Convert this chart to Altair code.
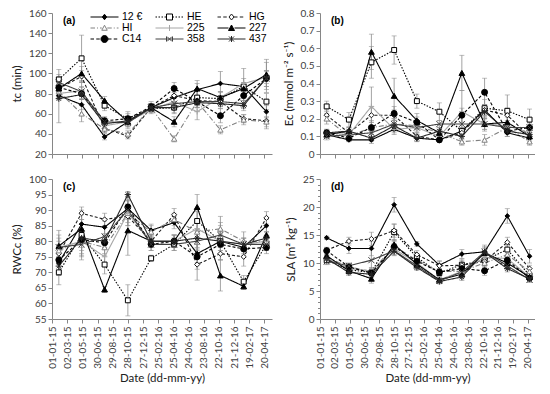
import altair as alt
import pandas as pd

# ---------------- data ----------------
series = ["12 €", "HE", "HG", "HI", "225", "227", "C14", "358", "437"]
sample_dates = ["2015-01-28", "2015-04-28", "2015-07-28", "2015-10-28", "2016-01-28",
                "2016-04-28", "2016-07-28", "2016-10-28", "2017-01-28", "2017-04-28"]
tick_labels = ["01-01-15", "02-03-15", "01-05-15", "30-06-15", "29-08-15", "28-10-15",
               "27-12-15", "25-02-16", "25-04-16", "24-06-16", "23-08-16", "22-10-16",
               "21-12-16", "19-02-17", "20-04-17"]

# (a) tc (min)
tc = {
    "12 €": [78, 69, 37, 52, 66, 76, 84, 90, 87, 62],
    "HE":   [94, 115, 68, 55, 65, 66, 76, 75, 87, 72],
    "HG":   [85, 97, 45, 38, 66, 78, 73, 72, 55, 53],
    "HI":   [82, 60, 45, 40, 66, 35, 72, 44, 54, 52],
    "225":  [80, 83, 48, 52, 64, 72, 62, 76, 90, 96],
    "227":  [85, 100, 73, 52, 66, 52, 85, 76, 85, 99],
    "C14":  [86, 80, 53, 55, 67, 85, 72, 58, 78, 95],
    "358":  [91, 82, 52, 51, 66, 70, 72, 72, 70, 95],
    "437":  [75, 79, 50, 53, 66, 66, 71, 70, 68, 96],
}
tc_err = {
    "12 €": [4, 5, 3, 3, 3, 5, 6, 12, 4, 6],
    "HE":   [10, 23, 5, 5, 4, 6, 8, 6, 18, 8],
    "HG":   [5, 6, 4, 3, 4, 6, 5, 5, 4, 8],
    "HI":   [6, 8, 4, 3, 4, 3, 6, 4, 5, 5],
    "225":  [5, 8, 5, 5, 4, 5, 8, 6, 5, 15],
    "227":  [6, 7, 4, 5, 4, 5, 8, 6, 6, 15],
    "C14":  [5, 6, 4, 7, 5, 6, 4, 7, 5, 8],
    "358":  [6, 5, 4, 6, 4, 5, 6, 5, 5, 8],
    "437":  [24, 5, 4, 4, 4, 5, 5, 5, 5, 6],
}

# (b) Ec (mmol m-2 s-1)
ec = {
    "12 €": [0.11, 0.08, 0.08, 0.14, 0.09, 0.08, 0.13, 0.25, 0.12, 0.09],
    "HE":   [0.27, 0.195, 0.52, 0.59, 0.30, 0.24, 0.13, 0.26, 0.245, 0.195],
    "HG":   [0.22, 0.12, 0.22, 0.22, 0.10, 0.08, 0.12, 0.25, 0.22, 0.10],
    "HI":   [0.20, 0.10, 0.15, 0.17, 0.16, 0.12, 0.07, 0.08, 0.15, 0.07],
    "225":  [0.12, 0.11, 0.27, 0.14, 0.15, 0.10, 0.24, 0.17, 0.16, 0.12],
    "227":  [0.11, 0.13, 0.58, 0.33, 0.19, 0.12, 0.46, 0.17, 0.18, 0.10],
    "C14":  [0.12, 0.09, 0.15, 0.23, 0.18, 0.08, 0.22, 0.35, 0.13, 0.15],
    "358":  [0.10, 0.11, 0.12, 0.17, 0.15, 0.17, 0.17, 0.17, 0.15, 0.15],
    "437":  [0.12, 0.13, 0.09, 0.16, 0.09, 0.13, 0.10, 0.24, 0.13, 0.11],
}
ec_err = {
    "12 €": [0.02, 0.01, 0.02, 0.02, 0.02, 0.01, 0.02, 0.03, 0.02, 0.02],
    "HE":   [0.03, 0.04, 0.09, 0.08, 0.04, 0.05, 0.02, 0.05, 0.09, 0.06],
    "HG":   [0.03, 0.02, 0.04, 0.03, 0.02, 0.01, 0.02, 0.03, 0.04, 0.02],
    "HI":   [0.03, 0.02, 0.03, 0.03, 0.02, 0.02, 0.02, 0.03, 0.02, 0.02],
    "225":  [0.02, 0.02, 0.11, 0.03, 0.03, 0.02, 0.12, 0.03, 0.03, 0.02],
    "227":  [0.02, 0.02, 0.10, 0.10, 0.04, 0.02, 0.10, 0.03, 0.03, 0.02],
    "C14":  [0.02, 0.02, 0.04, 0.04, 0.03, 0.01, 0.04, 0.08, 0.03, 0.03],
    "358":  [0.02, 0.02, 0.03, 0.03, 0.02, 0.02, 0.04, 0.04, 0.02, 0.02],
    "437":  [0.02, 0.02, 0.02, 0.03, 0.02, 0.02, 0.02, 0.04, 0.02, 0.02],
}

# (c) RWCc (%)
rwc = {
    "12 €": [73, 85.5, 84.5, 90.5, 83.5, 86, 76, 80, 78, 85],
    "HE":   [70, 82, 72.5, 61, 74.5, 79, 86.5, 80, 67, 79],
    "HG":   [76, 89, 87, 88, 80, 88.5, 72.5, 76, 75, 87.5],
    "HI":   [77, 80, 78, 89, 83, 87, 83, 84, 80, 80],
    "225":  [78, 80, 75, 89, 80, 80, 84, 80, 79, 80],
    "227":  [78.5, 84, 64.5, 83.5, 80, 80, 91, 69, 65.5, 82],
    "C14":  [74, 80.5, 79.5, 91, 79, 80, 75, 79, 77.5, 78],
    "358":  [78, 79, 81.5, 90, 79, 79, 80, 82, 79, 79],
    "437":  [72, 81, 80, 95, 80, 80, 81, 80, 79, 81],
}
rwc_err = {
    "12 €": [3, 3, 2, 3, 2, 2, 3, 3, 2, 2],
    "HE":   [4, 8, 3, 5, 1, 2, 3, 2, 2, 2],
    "HG":   [3, 2, 2, 3, 1, 2, 5, 2, 3, 2],
    "HI":   [3, 3, 2, 3, 2, 2, 4, 4, 3, 2],
    "225":  [4, 4, 3, 4, 2, 2, 3, 6, 2, 3],
    "227":  [5, 3, 1, 8, 2, 2, 4, 5, 1, 3],
    "C14":  [5, 5, 2, 3, 2, 2, 4, 3, 2, 2],
    "358":  [3, 4, 3, 3, 2, 2, 3, 3, 2, 2],
    "437":  [3, 3, 2, 1, 2, 2, 3, 3, 2, 2],
}

# (d) SLA (m2 kg-1)
sla = {
    "12 €": [14.5, 12.6, 12.6, 20.4, 13.4, 9.6, 11.6, 12.0, 18.4, 11.2],
    "HE":   [10.5, 8.8, 8.3, 15.5, 11.0, 8.2, 9.7, 10.5, 12.4, 7.8],
    "HG":   [12.3, 13.9, 14.3, 15.8, 11.5, 9.5, 9.6, 10.3, 13.7, 9.0],
    "HI":   [11.0, 9.3, 8.5, 13.0, 10.5, 8.5, 8.5, 10.0, 11.5, 8.5],
    "225":  [10.8, 9.0, 8.6, 12.5, 10.0, 7.0, 8.5, 11.0, 10.8, 7.5],
    "227":  [11.3, 8.6, 7.2, 13.3, 9.8, 7.0, 8.0, 11.8, 10.0, 7.5],
    "C14":  [12.2, 9.3, 8.2, 12.9, 10.3, 8.4, 9.0, 8.6, 10.5, 7.3],
    "358":  [10.3, 9.5, 10.5, 12.2, 9.5, 6.8, 8.4, 12.0, 9.5, 7.0],
    "437":  [10.8, 8.3, 8.0, 12.1, 9.2, 6.7, 7.5, 11.9, 9.0, 7.2],
}
sla_err = {
    "12 €": [0.3, 0.9, 1.3, 1.3, 0.4, 0.8, 0.8, 1.2, 1.3, 1.2],
    "HE":   [0.8, 0.5, 0.6, 1.4, 0.7, 0.6, 1.0, 0.8, 0.8, 0.5],
    "HG":   [0.5, 0.7, 1.2, 1.2, 0.7, 0.8, 0.8, 0.7, 0.9, 0.6],
    "HI":   [0.5, 0.5, 0.6, 1.0, 0.6, 0.5, 0.6, 0.8, 0.6, 0.5],
    "225":  [0.5, 0.5, 0.6, 1.0, 0.6, 0.5, 0.6, 1.0, 0.6, 0.5],
    "227":  [0.6, 0.5, 0.8, 0.9, 0.6, 0.4, 0.7, 0.8, 0.6, 0.5],
    "C14":  [0.6, 0.6, 0.7, 0.9, 0.6, 0.6, 0.7, 0.8, 0.7, 0.5],
    "358":  [0.5, 0.5, 2.0, 0.8, 0.6, 0.5, 0.6, 0.9, 0.6, 0.5],
    "437":  [0.5, 0.5, 0.6, 0.8, 0.5, 0.4, 0.6, 0.8, 0.6, 0.5],
}

# ---------------- styles ----------------
line_colors = ["#000000", "#000000", "#1a1a1a", "#808080", "#a6a6a6", "#000000", "#000000", "#404040", "#262626"]
dashes = [[1, 0], [1.5, 1.5], [3, 2], [5, 2, 1, 2], [1, 0], [1, 0], [3, 2], [1, 0], [1, 0]]
PLUS = "M-1,0H1M0,-1V1"
XSH = "M-1,-1L1,1M-1,1L1,-1"
AST = "M-1,0H1M0,-1V1M-0.7,-0.7L0.7,0.7M-0.7,0.7L0.7,-0.7"
shapes = ["diamond", "square", "diamond", "triangle-up", PLUS, "triangle-up", "circle", XSH, AST]
fills = ["#000000", "#ffffff", "#ffffff", "#ffffff", "transparent", "#000000", "#000000", "transparent", "transparent"]
sizes = [22, 40, 32, 26, 40, 32, 45, 22, 30]

# legend symbols: marker + line drawn as a single path (unit = 5 px)
marker_paths = [
    ("M0,-0.55L0.45,0L0,0.55L-0.45,0Z", 0.45),
    ("M-0.6,-0.6H0.6V0.6H-0.6Z", 0.6),
    ("M0,-0.6L0.5,0L0,0.6L-0.5,0Z", 0.5),
    ("M0,-0.55L0.55,0.45H-0.55Z", 0.55),
    ("M0,-0.6V0.6", 0.0),
    ("M0,-0.6L0.6,0.5H-0.6Z", 0.6),
    ("M-0.7,0A0.7,0.7 0 1,0 0.7,0A0.7,0.7 0 1,0 -0.7,0Z", 0.7),
    ("M-0.45,-0.45L0.45,0.45M-0.45,0.45L0.45,-0.45M-0.6,-0.5V0.5M0.6,-0.5V0.5", 0.0),
    ("M-0.5,-0.5L0.5,0.5M-0.5,0.5L0.5,-0.5M0,-0.6V0.6", 0.0),
]
legend_dash_units = [None, [0.3, 0.3], [0.7, 0.45], [0.9, 0.4, 0.2, 0.4], None, None, [0.7, 0.45], None, None]


def line_path(dash, gap, L=2.8):
    out = []
    for a, b in [(-L, -gap), (gap, L)]:
        if b <= a:
            continue
        if dash is None:
            out.append((a, b))
            continue
        pos, i = a, 0
        while pos < b:
            ln = dash[i % len(dash)]
            if i % 2 == 0:
                out.append((pos, min(pos + ln, b)))
            pos += ln
            i += 1
    return "".join(f"M{a:.2f},0H{b:.2f}" for a, b in out)


legend_paths = [line_path(d, g) + m for (m, g), d in zip(marker_paths, legend_dash_units)]
# legend is filled column by column: reorder so it reads row by row like the original
order = [r * 3 + c for c in range(3) for r in range(3)]
lg_domain = [series[i] for i in order]
lg_paths = [legend_paths[i] for i in order]
lg_fills = [fills[i] for i in order]
lg_strokes = [line_colors[i] for i in order]

x_domain = [alt.DateTime(year=2015, month=1, date=1), alt.DateTime(year=2017, month=5, date=20)]
tick_values = []
for t in tick_labels:
    d, m, y = t.split("-")
    tick_values.append(alt.DateTime(year=2000 + int(y), month=int(m), date=int(d)))

FONT = "Lato"


def panel(values, errors, ytitle, ydomain, yvalues, yfmt, letter, w, h, show_x, legend=False, minor=None):
    rows = []
    for s in series:
        for d, v, e in zip(sample_dates, values[s], errors[s]):
            rows.append({"series": s, "date": d + "T00:00:00", "value": v, "lo": v - e, "hi": v + e})
    df = pd.DataFrame(rows)
    xaxis = alt.Axis(values=tick_values, format="%d-%m-%y", labelAngle=-90, labels=show_x,
                     title="Date (dd-mm-yy)" if show_x else None, labelPadding=3)
    xenc = alt.X("date:T", scale=alt.Scale(domain=x_domain), axis=xaxis)
    yscale = alt.Scale(domain=ydomain, nice=False, zero=False)
    if minor:
        yaxis = alt.Axis(values=minor, format=yfmt, title=ytitle, titlePadding=6,
                         labelExpr="datum.value % 5 === 0 ? datum.label : ''",
                         tickSize={"expr": "datum.value % 5 === 0 ? 4 : 2.5"})
    else:
        yaxis = alt.Axis(values=yvalues, format=yfmt, title=ytitle, titlePadding=6)

    base = alt.Chart(df)
    err = base.mark_rule(color="#8c8c8c", strokeWidth=0.8).encode(
        x=xenc, y=alt.Y("lo:Q", scale=yscale, axis=yaxis, title=ytitle), y2="hi:Q")
    cap_lo = base.mark_tick(orient="horizontal", size=5, thickness=0.8, color="#8c8c8c").encode(
        x=xenc, y=alt.Y("lo:Q", scale=yscale, axis=yaxis, title=ytitle))
    cap_hi = base.mark_tick(orient="horizontal", size=5, thickness=0.8, color="#8c8c8c").encode(
        x=xenc, y=alt.Y("hi:Q", scale=yscale, axis=yaxis, title=ytitle))
    yv = alt.Y("value:Q", scale=yscale, axis=yaxis, title=ytitle)
    lines = base.mark_line(strokeWidth=1.1).encode(
        x=xenc, y=yv,
        color=alt.Color("series:N", scale=alt.Scale(domain=series, range=line_colors), legend=None),
        strokeDash=alt.StrokeDash("series:N", scale=alt.Scale(domain=series, range=dashes), legend=None),
    )
    pts = base.mark_point(filled=True, opacity=1, strokeWidth=1).encode(
        x=xenc, y=yv,
        shape=alt.Shape("series:N", scale=alt.Scale(domain=series, range=shapes), legend=None),
        fill=alt.Fill("series:N", scale=alt.Scale(domain=series, range=fills), legend=None),
        stroke=alt.Stroke("series:N", scale=alt.Scale(domain=series, range=line_colors), legend=None),
        size=alt.Size("series:N", scale=alt.Scale(domain=series, range=sizes), legend=None),
    )
    txt = alt.Chart(pd.DataFrame({"label": [letter]})).mark_text(
        align="left", baseline="middle", fontWeight="bold", fontSize=10, font="Liberation Sans"
    ).encode(text="label:N", x=alt.value(11), y=alt.value(8))
    layers = [err, cap_lo, cap_hi, lines, pts, txt]
    if legend:
        leg = alt.Legend(orient="none", legendX=47, legendY=-1.5, columns=3, symbolSize=100,
                         symbolStrokeWidth=1, labelFont="Liberation Sans", labelFontSize=10.5,
                         labelColor="#000000", labelOffset=12, columnPadding=10, rowPadding=0,
                         padding=0, symbolOpacity=1, title=None)
        lg = alt.Chart(pd.DataFrame({"lg": lg_domain})).transform_filter("false").mark_point(
            filled=True, opacity=1).encode(
            shape=alt.Shape("lg:N", scale=alt.Scale(domain=lg_domain, range=lg_paths), legend=leg, title=None),
            fill=alt.Fill("lg:N", scale=alt.Scale(domain=lg_domain, range=lg_fills), legend=leg, title=None),
            stroke=alt.Stroke("lg:N", scale=alt.Scale(domain=lg_domain, range=lg_strokes), legend=leg, title=None),
        )
        layers.append(lg)
    ch = alt.layer(*layers).properties(width=w, height=h)
    if legend:
        ch = ch.resolve_scale(shape="independent", fill="independent", stroke="independent")
    return ch


pa = panel(tc, tc_err, "tc (min)", [20, 160], list(range(20, 161, 20)), "d", "(a)", 220, 141, False, legend=True)
pb = panel(ec, ec_err, "Ec (mmol m⁻² s⁻¹)", [0, 0.8], [i / 10 for i in range(0, 9)], ".1~f", "(b)", 215, 141, False)
pc = panel(rwc, rwc_err, "RWCc (%)", [55, 100], list(range(55, 101, 5)), "d", "(c)", 220, 140, True)
pd_ = panel(sla, sla_err, "SLA (m² kg⁻¹)", [0, 25], list(range(0, 26, 5)), "d", "(d)", 215, 140, True,
            minor=list(range(0, 26)))

chart = alt.concat(pa, pb, pc, pd_, columns=2, spacing={"row": 15, "column": 11}).properties(
    padding={"left": 3, "top": 0, "right": 0, "bottom": 0}
).configure_view(stroke=None).configure_axis(
    grid=False, domainColor="#868686", tickColor="#868686", tickSize=4,
    labelFont=FONT, labelFontSize=10, labelColor="#404040",
    titleFont=FONT, titleFontSize=11.5, titleFontWeight="normal", titleColor="#202020",
)

chart.save("out.html", embed_options={"renderer": "svg", "actions": False})
